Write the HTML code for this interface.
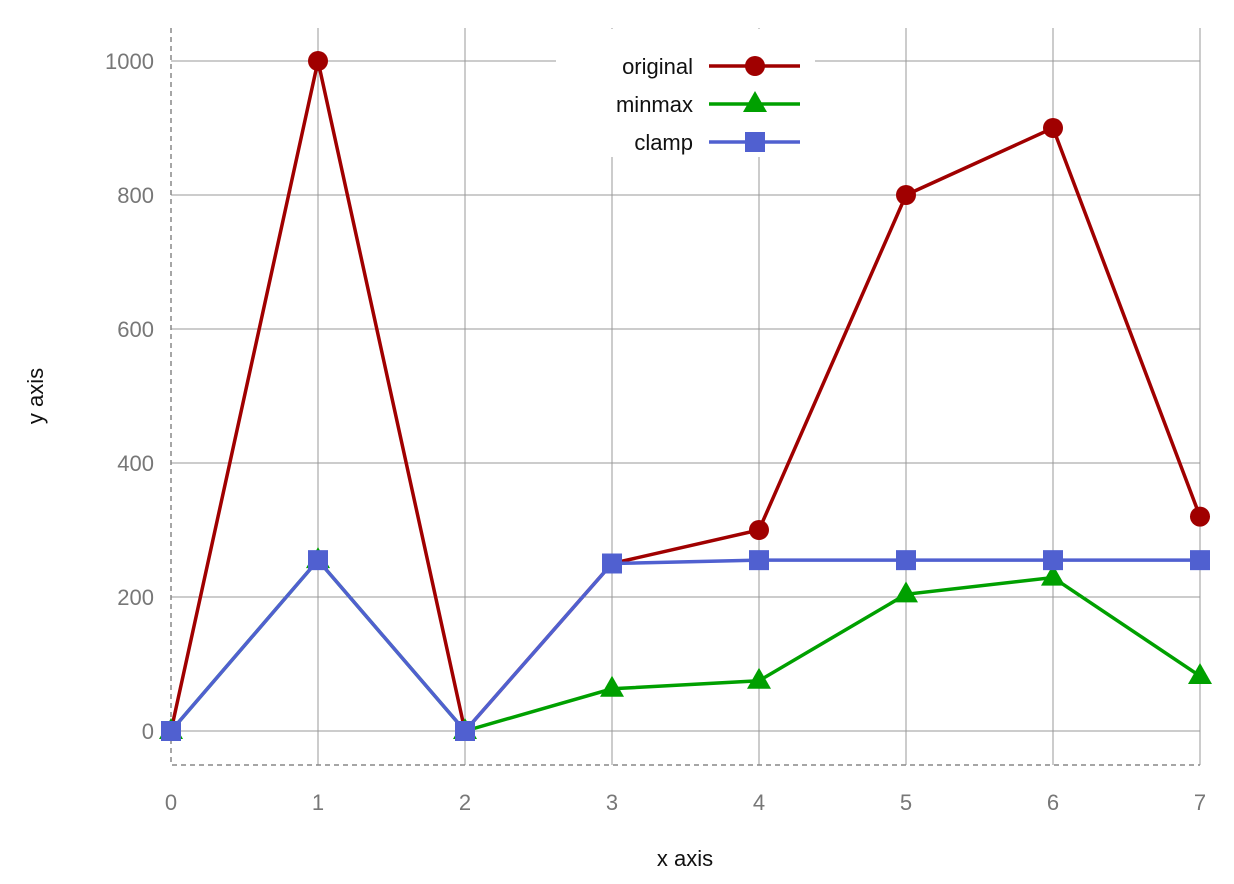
<!DOCTYPE html>
<html><head><meta charset="utf-8"><style>body{margin:0;background:#fff}svg{display:block;font-family:"Liberation Sans",sans-serif}</style></head>
<body>
<svg id="chart" width="1234" height="884" viewBox="0 0 1234 884"></svg>
<script>
const categories=[0,1,2,3,4,5,6,7];
const originalValues=[0,1000,0,250,300,800,900,320];
const minmaxValues=[0,255,0,63,75,204,229,82];
const clampValues=[0,255,0,250,255,255,255,255];
const yTicks=[0,200,400,600,800,1000];
const xTickLabels=["0","1","2","3","4","5","6","7"];
const svg=document.getElementById('chart');
const NS='http://www.w3.org/2000/svg';
const X=v=>171+v*147;
const Y=v=>731-v*0.67;
function mk(t,a,p){const e=document.createElementNS(NS,t);for(const k in a)e.setAttribute(k,a[k]);(p||svg).appendChild(e);return e;}
const grid=mk('g',{});
categories.forEach((c,i)=>{if(i>0){const l=mk('line',{x1:X(c),x2:X(c),y1:28,y2:765,stroke:'#999','stroke-width':1},grid);}
 const t=mk('text',{x:X(c),y:810,'text-anchor':'middle','font-size':22,fill:'#777'});t.textContent=xTickLabels[i];});
yTicks.forEach(v=>{const l=mk('line',{x1:171,x2:1200,y1:Y(v),y2:Y(v),stroke:'#999','stroke-width':1},grid);
 const t=mk('text',{x:154,y:Y(v)+8,'text-anchor':'end','font-size':22,fill:'#777'});t.textContent=v;});
let a=mk('path',{d:'M171 28V765H1200',fill:'none',stroke:'#888','stroke-width':1.5,'stroke-dasharray':'5,4'});
let t=mk('text',{x:685,y:866,'text-anchor':'middle','font-size':22,fill:'#111'});t.textContent='x axis';
t=mk('text',{x:0,y:0,'text-anchor':'middle','font-size':22,fill:'#111',transform:'translate(43,396) rotate(-90)'});t.textContent='y axis';
const series=[{n:'original',v:originalValues,c:'#a00000',m:'circle'},{n:'minmax',v:minmaxValues,c:'#00a000',m:'tri'},{n:'clamp',v:clampValues,c:'#5060d0',m:'sq'}];
function marker(g,m,x,y,c){let e;if(m==='circle')e=mk('circle',{cx:x,cy:y,r:10,fill:c},g);else if(m==='tri')e=mk('path',{d:`M${x} ${y-13}L${x+12} ${y+8}L${x-12} ${y+8}Z`,fill:c},g);else e=mk('rect',{x:x-10,y:y-10,width:20,height:20,fill:c},g);return e;}
series.forEach(s=>{const g=mk('g',{});
 const p=mk('polyline',{points:s.v.map((v,i)=>X(categories[i])+','+Y(v)).join(' '),fill:'none',stroke:s.c,'stroke-width':3.5},g);
 s.v.forEach((v,i)=>{const e=marker(g,s.m,X(categories[i]),Y(v),s.c);});});
const lg=mk('g',{});
mk('rect',{x:556,y:29,width:259,height:128,fill:'#fff'},lg);
series.forEach((s,i)=>{const y=66+i*38;const e=mk('g',{},lg);
 const tt=mk('text',{x:693,y:y+8,'text-anchor':'end','font-size':22,fill:'#111'},e);tt.textContent=s.n;
 mk('line',{x1:709,x2:800,y1:y,y2:y,stroke:s.c,'stroke-width':3.5},e);marker(e,s.m,755,y,s.c);});
</script>
</body></html>
